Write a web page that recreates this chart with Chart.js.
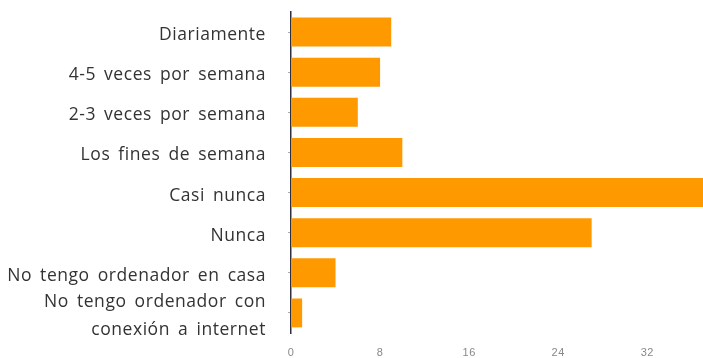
<!DOCTYPE html>
<html>
<head>
<meta charset="utf-8">
<script src="https://cdn.jsdelivr.net/npm/chart.js@4/dist/chart.umd.min.js"></script>
<style>
  html, body { margin: 0; padding: 0; background: #fff; }
  #wrap { width: 703px; height: 358px; }
</style>
</head>
<body>
<div id="wrap"><canvas id="chart"></canvas></div>
<script>
// Frecuencia de uso: categorías y número de respuestas
const categories = [
  'Diariamente',
  '4-5 veces por semana',
  '2-3 veces por semana',
  'Los fines de semana',
  'Casi nunca',
  'Nunca',
  'No tengo ordenador en casa',
  ['No tengo ordenador con', 'conexión a internet']
];
const responses = [9, 8, 6, 10, 37, 27, 4, 1];
const xTickValues = [0, 8, 16, 24, 32];

// Slightly open text tracking for the axis labels
const textSpacing = {
  id: 'textSpacing',
  beforeDraw(chart) {
    const ctx = chart.ctx;
    if ('letterSpacing' in ctx) ctx.letterSpacing = '0.55px';
    if ('wordSpacing' in ctx) ctx.wordSpacing = '3px';
  }
};

new Chart(document.getElementById('chart'), {
  type: 'bar',
  data: {
    labels: categories,
    datasets: [{
      data: responses,
      backgroundColor: '#ff9900',
      borderWidth: 0,
      barPercentage: 0.8,
      categoryPercentage: 0.9
    }]
  },
  options: {
    indexAxis: 'y',
    responsive: true,
    maintainAspectRatio: false,
    animation: false,
    layout: { padding: { top: 12, left: 0, right: 0, bottom: 0 } },
    plugins: { legend: { display: false }, tooltip: { enabled: false } },
    scales: {
      x: {
        min: 0,
        max: 37,
        grid: { display: false, drawTicks: false },
        border: { display: false },
        afterBuildTicks: (scale) => {
          scale.ticks = xTickValues.map(v => ({ value: v }));
        },
        afterFit: (scale) => {
          scale.height = 25;
          scale.paddingLeft = 0;
          scale.paddingRight = 0;
        },
        ticks: {
          padding: 13,
          color: '#888',
          font: { family: 'Liberation Sans', size: 11 },
          maxRotation: 0,
          autoSkip: false
        }
      },
      y: {
        grid: { display: true, offset: false, drawOnChartArea: false, drawTicks: true, tickLength: 3, color: '#aaa' },
        border: { display: true, color: '#2e2e3c', width: 1.5 },
        afterFit: (scale) => {
          scale.width = 291;
          scale.paddingTop = 0;
          scale.paddingBottom = 0;
        },
        ticks: {
          padding: 22,
          labelOffset: 3,
          autoSkip: false,
          color: '#333',
          font: { family: 'Open Sans', size: 17.5, lineHeight: 1.6 }
        }
      }
    }
  },
  plugins: [textSpacing]
});
</script>
</body>
</html>
